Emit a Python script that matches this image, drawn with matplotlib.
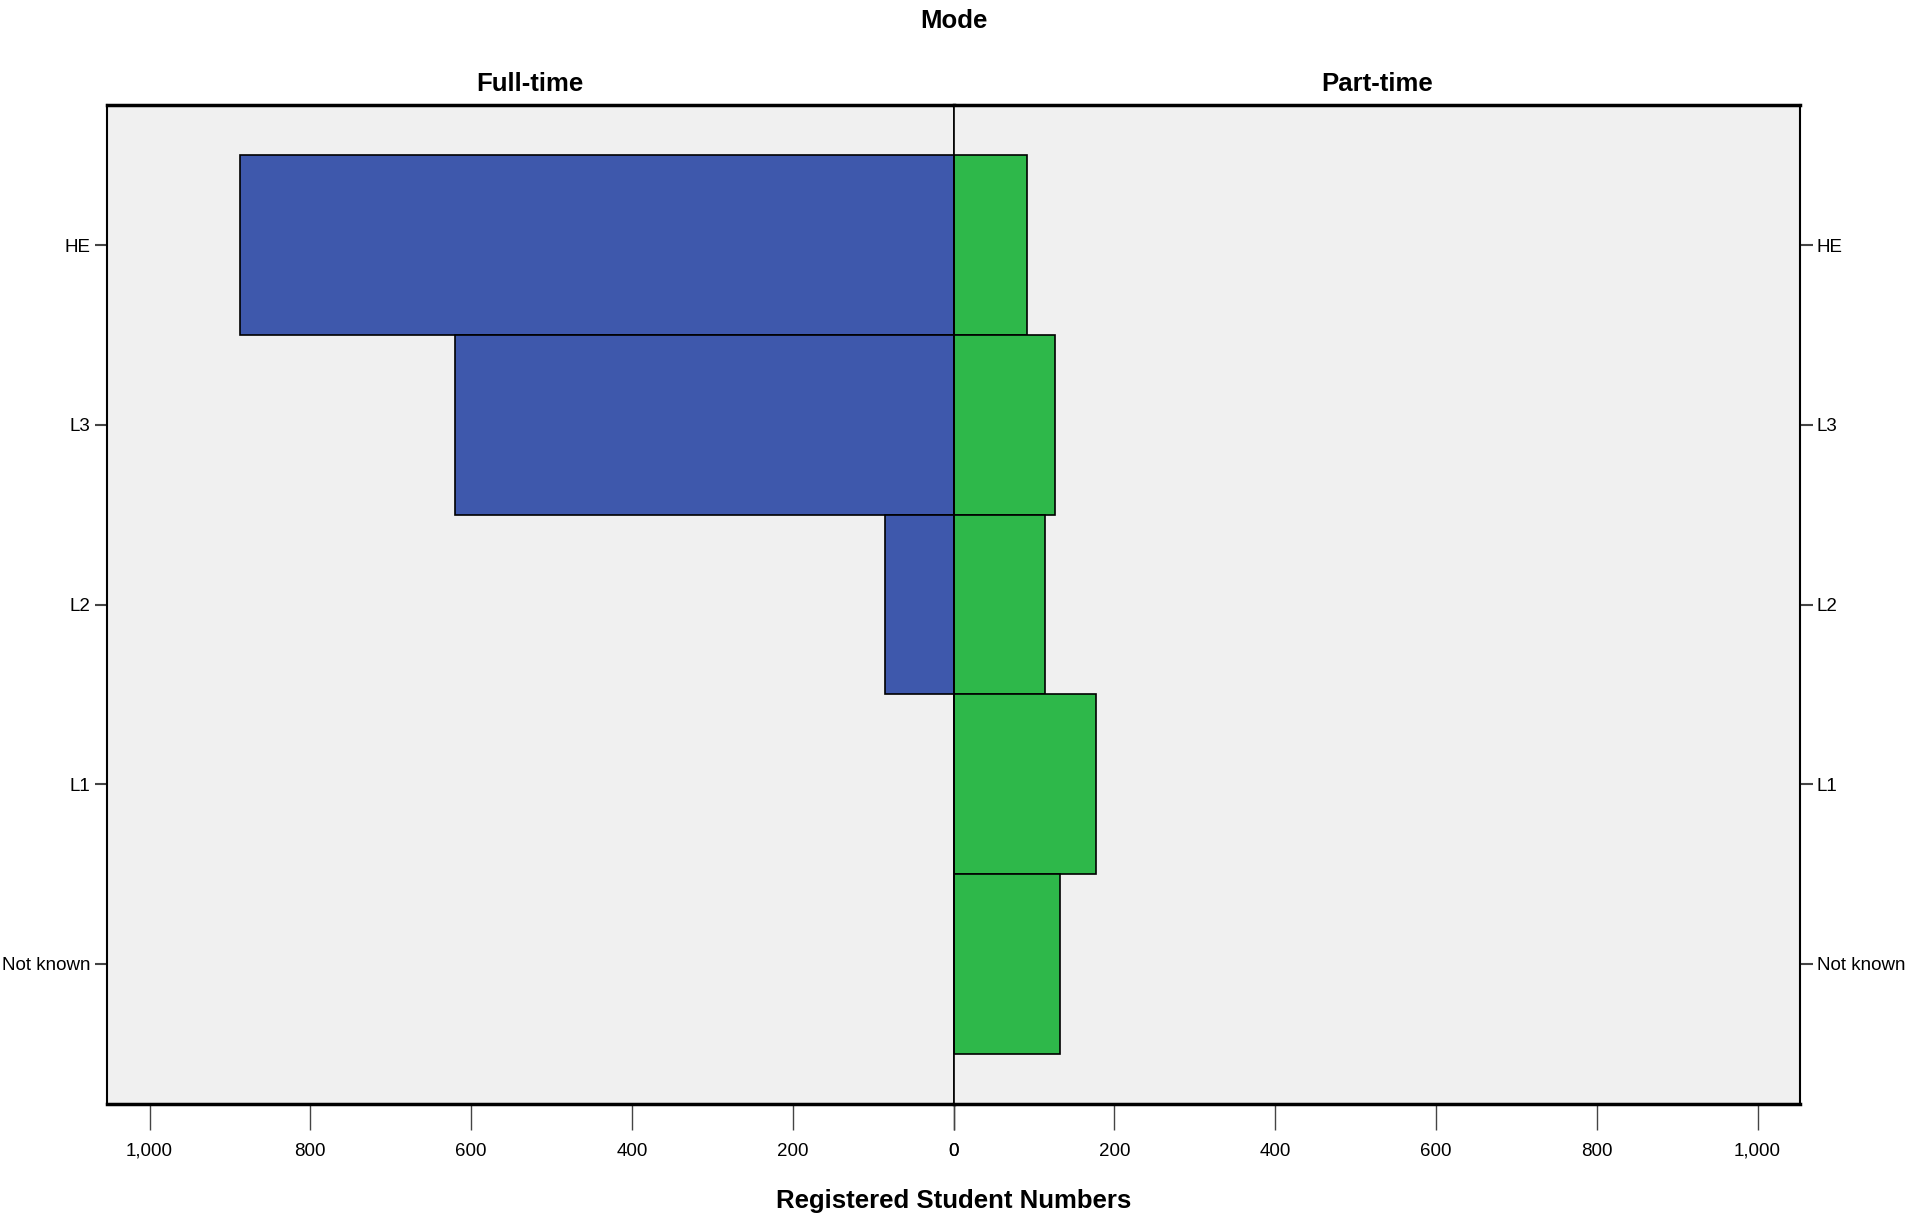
import matplotlib
matplotlib.use("Agg")
import matplotlib.pyplot as plt

# data
levels = ["HE", "L3", "L2", "L1", "Not known"]
full_time = [888, 620, 85, 0, 0]
part_time = [91, 126, 114, 177, 132]
xticks = [0, 200, 400, 600, 800, 1000]
xtick_labels = ["0", "200", "400", "600", "800", "1,000"]

plt.rcParams["font.family"] = ["Liberation Sans", "DejaVu Sans"]

bg = "#f0f0f0"
blue = "#3e58ac"
green = "#2eb84a"
xmax = 1053

fig = plt.figure(figsize=(19.09, 12.22), dpi=100)
left = 0.056
right = 0.943
mid = (left + right) / 2
bottom = 0.0966
top = 0.914
ax1 = fig.add_axes([left, bottom, mid - left, top - bottom])
ax2 = fig.add_axes([mid, bottom, right - mid, top - bottom])

ypos = list(range(len(levels)))
ax1.barh(ypos, full_time, height=1.0, color=blue, edgecolor="black", linewidth=1.2)
ax2.barh(ypos, part_time, height=1.0, color=green, edgecolor="black", linewidth=1.2)

for ax in (ax1, ax2):
    ax.set_facecolor(bg)
    ax.set_ylim(len(levels) - 0.22, -0.78)
    ax.set_yticks(ypos)
    ax.set_yticklabels(levels)
    ax.set_xticks(xticks)
    ax.set_xticklabels(xtick_labels)
    ax.tick_params(axis="x", length=19, width=1, color="#444444", labelsize=13.5, pad=9)
    ax.tick_params(axis="y", length=9, width=1.5, color="#444444", labelsize=13.5, pad=3)
    for s in ax.spines.values():
        s.set_linewidth(1.5)
    ax.spines["top"].set_linewidth(2.5)
    ax.spines["bottom"].set_linewidth(2.5)

ax1.set_xlim(xmax, 0)
ax2.set_xlim(0, xmax)
ax1.spines["right"].set_linewidth(1.2)
ax2.spines["left"].set_linewidth(1.2)
ax2.yaxis.tick_right()
ax2.yaxis.set_label_position("right")

ax1.set_title("Full-time", fontsize=18.5, fontweight="bold", pad=10)
ax2.set_title("Part-time", fontsize=18.5, fontweight="bold", pad=10)
fig.text(mid, 0.983, "Mode", ha="center", va="center", fontsize=18.5, fontweight="bold")
fig.text(mid, 0.017, "Registered Student Numbers", ha="center", va="center",
         fontsize=18.5, fontweight="bold")

fig.savefig("out.png", dpi=100, facecolor="white")
